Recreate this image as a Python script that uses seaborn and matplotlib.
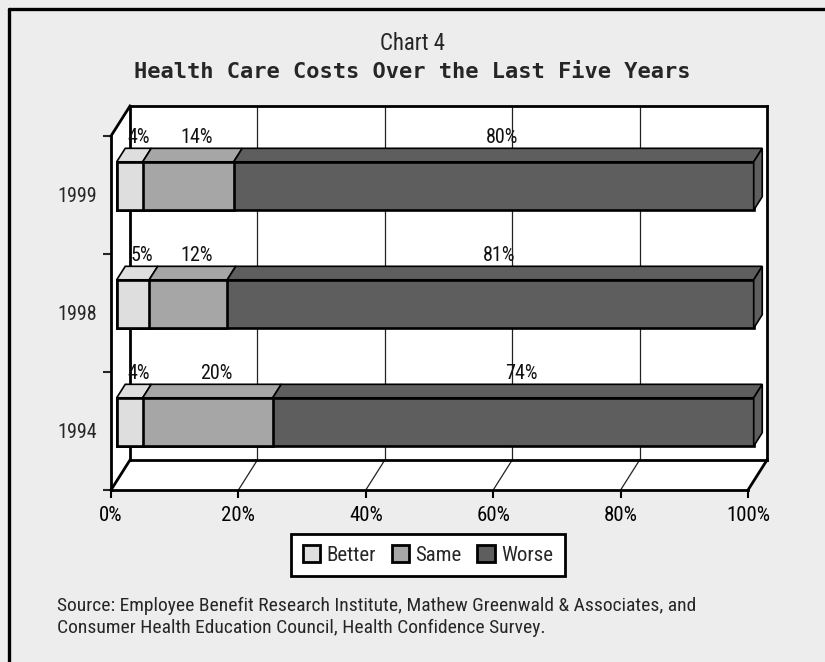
import matplotlib
matplotlib.use("Agg")
import numpy as np
import pandas as pd
import seaborn as sns
import matplotlib.pyplot as plt
from matplotlib import font_manager
from matplotlib.patches import Polygon, Patch
from matplotlib.lines import Line2D
from matplotlib.transforms import ScaledTranslation

# ---- data -------------------------------------------------------------
years = ["1999", "1998", "1994"]
responses = ["Better", "Same", "Worse"]
better = [4, 5, 4]
same = [14, 12, 20]
worse = [80, 81, 74]
xticks = [0, 20, 40, 60, 80, 100]
xtick_labels = ["0%", "20%", "40%", "60%", "80%", "100%"]

colors = {"Better": "#dedede", "Same": "#a6a6a6", "Worse": "#5e5e5e"}

title_small = "Chart 4"
title_main = "Health Care Costs Over the Last Five Years"
source_text = ("Source: Employee Benefit Research Institute, Mathew Greenwald & Associates, and\n"
               "Consumer Health Education Council, Health Confidence Survey.")

# ---- style ------------------------------------------------------------
sns.set_style("white")


def narrow_family():
    installed = {f.name for f in font_manager.fontManager.ttflist}
    for name in ("Liberation Sans Narrow", "Arial Narrow", "Roboto Condensed",
                 "Open Sans Condensed"):
        if name in installed:
            return name
    return "Liberation Sans"


NARROW = narrow_family()
plt.rcParams["font.family"] = [NARROW, "DejaVu Sans"]

W, H = 825, 662
fig = plt.figure(figsize=(W / 100, H / 100), dpi=100)
fig.patch.set_facecolor("#ededed")

# front plane of the 3-D box, in pixels
LEFT, RIGHT, TOP, BOTTOM = 111, 748, 136, 490
ax = fig.add_axes([LEFT / W, 1 - BOTTOM / H, (RIGHT - LEFT) / W, (BOTTOM - TOP) / H])
ax.set_facecolor("none")

# oblique depth of the box (pixels right / up for full depth)
DEPTH_PX = (19.0, 30.0)
D0, D1 = 0.30, 0.75       # bar slab depth range
BAR_H = 0.41

# ---- stacked 100% bars ------------------------------------------------
df = pd.DataFrame({"year": years, "Better": better, "Same": same, "Worse": worse})
share = df[responses].div(df[responses].sum(axis=1), axis=0) * 100
cum = share.cumsum(axis=1)
start = cum - share

for r in reversed(responses):
    sub = pd.DataFrame({"year": years, "end": cum[r].values})
    sns.barplot(data=sub, x="end", y="year", order=years, orient="h",
                color=colors[r], saturation=1, width=BAR_H, edgecolor="black",
                linewidth=1.9, errorbar=None, ax=ax)

ax.set_xlim(0, 100)
ax.set_ylim(2.5, -0.5)
ax.set_xlabel("")
ax.set_ylabel("")

front_shift = ScaledTranslation(D0 * DEPTH_PX[0] / 100, D0 * DEPTH_PX[1] / 100,
                                fig.dpi_scale_trans)
for p in ax.patches:
    p.set_transform(ax.transData + front_shift)
    p.set_clip_on(False)
    p.set_zorder(3)


def to_data(x, y, depth):
    px, py = ax.transData.transform((x, y))
    px += depth * DEPTH_PX[0]
    py += depth * DEPTH_PX[1]
    return ax.transData.inverted().transform((px, py))


def face(pts, fc, lw=1.2, z=3, ec="black"):
    poly = Polygon([to_data(*p) for p in pts], closed=True, facecolor=fc,
                   edgecolor=ec, linewidth=lw, clip_on=False, zorder=z,
                   joinstyle="miter")
    ax.add_patch(poly)


def edge(p0, p1, lw=2.0, color="black", z=1):
    a, b = to_data(*p0), to_data(*p1)
    ax.add_line(Line2D([a[0], b[0]], [a[1], b[1]], color=color, lw=lw,
                       clip_on=False, zorder=z, solid_capstyle="projecting"))


y_top, y_bot = -0.5, 2.5

# walls and floor
face([(0, y_bot, 1), (0, y_top, 1), (100, y_top, 1), (100, y_bot, 1)], "white", lw=0, z=0.1)
face([(0, y_bot, 0), (0, y_top, 0), (0, y_top, 1), (0, y_bot, 1)], "white", lw=0, z=0.2)
face([(0, y_bot, 0), (100, y_bot, 0), (100, y_bot, 1), (0, y_bot, 1)], "white", lw=0, z=0.2)

for v in xticks[1:-1]:
    edge((v, y_bot, 1), (v, y_top, 1), lw=0.9, color="#222222", z=0.5)
    edge((v, y_bot, 0), (v, y_bot, 1), lw=0.9, color="#222222", z=0.5)

edge((0, y_top, 1), (100, y_top, 1))
edge((100, y_top, 1), (100, y_bot, 1))
edge((0, y_top, 1), (0, y_bot, 1))
edge((0, y_bot, 1), (100, y_bot, 1))
edge((0, y_bot, 0), (0, y_bot, 1))
edge((100, y_bot, 0), (100, y_bot, 1))
edge((0, y_top, 0), (0, y_top, 1))

# top and end faces of each bar, plus value labels
for i, yr in enumerate(years):
    bt = i - BAR_H / 2
    bb = i + BAR_H / 2
    for r, vals in zip(responses, (better, same, worse)):
        a, b = start.loc[i, r], cum.loc[i, r]
        face([(a, bt, D0), (b, bt, D0), (b, bt, D1), (a, bt, D1)], colors[r], lw=1.2)
        lx, ly = to_data((a + b) / 2, bt, D1)
        ax.annotate(f"{vals[i]}%", (lx, ly), xytext=(0, 1), textcoords="offset points",
                    ha="center", va="bottom", fontsize=14.5, color="#111111",
                    annotation_clip=False, zorder=5)
    face([(100, bt, D0), (100, bb, D0), (100, bb, D1), (100, bt, D1)], colors["Worse"], lw=1.2)

# axes, ticks and labels
for s in ("top", "right"):
    ax.spines[s].set_visible(False)
for s in ("left", "bottom"):
    ax.spines[s].set_linewidth(2.0)
    ax.spines[s].set_color("black")
    ax.spines[s].set_zorder(1)

ax.set_xticks(xticks)
ax.set_xticklabels(xtick_labels)
ax.tick_params(axis="x", direction="out", length=5.5, width=1.5, pad=6,
               labelsize=15, colors="black", bottom=True)

ax.set_yticks([-0.5, 0.5, 1.5, 2.5])
ax.set_yticklabels([])
ax.set_yticks([0, 1, 2], minor=True)
ax.set_yticklabels(years, minor=True)
ax.tick_params(axis="y", which="major", direction="out", length=5.5, width=1.5, left=True)
ax.tick_params(axis="y", which="minor", length=0, pad=10, labelsize=14.5, left=True)
ax.grid(False)

# titles
fig.text(0.5, 1 - 44 / H, title_small, ha="center", va="center", fontsize=16.5)
fig.text(0.5, 1 - 72 / H, title_main, ha="center", va="center", fontsize=15.8,
         family="DejaVu Sans Mono", fontweight="bold")

# legend
handles = [Patch(facecolor=colors[r], edgecolor="black", linewidth=2) for r in responses]
leg = fig.legend(handles, responses, loc="center", ncol=3,
                 bbox_to_anchor=(428 / W, 1 - 555 / H), frameon=True, fancybox=False,
                 edgecolor="black", framealpha=1, facecolor="white",
                 handlelength=0.85, handleheight=0.85, handletextpad=0.3,
                 columnspacing=0.75, borderpad=0.55, fontsize=15)
leg.get_frame().set_linewidth(2)

# source note
fig.text(57 / W, 1 - 617 / H, source_text, ha="left", va="center", fontsize=14,
         linespacing=1.3)

# outer frame (top and left)
fig.add_artist(Line2D([9 / W, 1], [1 - 9 / H] * 2, transform=fig.transFigure,
                      color="black", lw=2.4))
fig.add_artist(Line2D([9 / W] * 2, [0, 1 - 9 / H], transform=fig.transFigure,
                      color="black", lw=2.4))

fig.savefig("out.png", dpi=100, facecolor=fig.get_facecolor())
